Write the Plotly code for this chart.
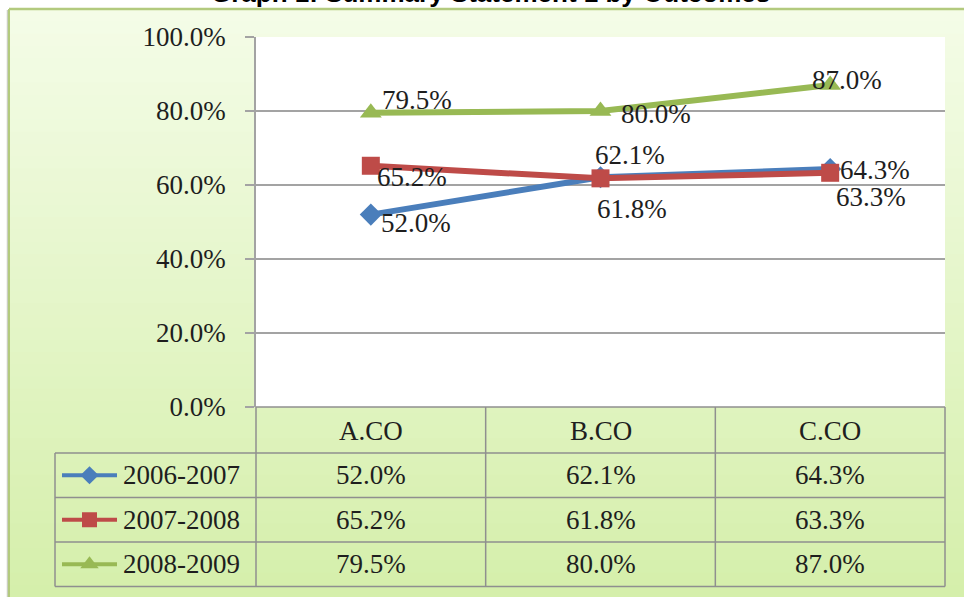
import plotly.graph_objects as go

# ---------------- data ----------------
categories = ["A.CO", "B.CO", "C.CO"]
series_names = ["2006-2007", "2007-2008", "2008-2009"]
values_2006_2007 = [0.520, 0.621, 0.643]
values_2007_2008 = [0.652, 0.618, 0.633]
values_2008_2009 = [0.795, 0.800, 0.870]
y_tick_values = [0.0, 0.2, 0.4, 0.6, 0.8, 1.0]
title_text = "Graph 1: Summary Statement 1 by Outcomes"

series_values = [values_2006_2007, values_2007_2008, values_2008_2009]

# ---------------- styling ----------------
W, H = 964, 597
PLOT_L, PLOT_R, PLOT_T, PLOT_B = 256, 945, 37, 407
TABLE_L = 55
HEADER_B = 453
ROW_H = 44.5

colors = ["#4a7ebb", "#be4b48", "#98b954"]
symbols = ["diamond", "square", "triangle-up"]
marker_sizes = [17, 18, 19]
# label offsets (px) relative to each point: (dx to left edge, dy up)
label_offsets = [
    [(8, -8), (-8, 22), (8, -1)],
    [(4, -11), (-6, -31), (4, -24)],
    [(9, 13), (18, -3), (-20, 5)],
]
SERIF = "Liberation Serif, Times New Roman, serif"
TXT = "#1e1e1e"
GRID = "#a3a3a3"
FS = 27


def fx(px):
    return px / W


def fy(py):
    return 1 - py / H


fig = go.Figure()

# main series
for name, vals, col, sym, ms in zip(series_names, series_values, colors, symbols, marker_sizes):
    fig.add_trace(go.Scatter(
        x=categories, y=vals, name=name, mode="lines+markers",
        line=dict(color=col, width=6),
        marker=dict(symbol=sym, size=ms, color=col),
        xaxis="x", yaxis="y", showlegend=False, hoverinfo="skip",
    ))

annotations = []
for vals, offs in zip(series_values, label_offsets):
    for cat, v, (dx, dy) in zip(categories, vals, offs):
        annotations.append(dict(
            x=cat, y=v, xref="x", yref="y", text=f"{v * 100:.1f}%",
            showarrow=False, xanchor="left", yanchor="middle",
            xshift=dx, yshift=dy, font=dict(family=SERIF, size=FS, color=TXT),
        ))

# ---------------- background gradient box ----------------
shapes = []
top_rgb = (0xf4, 0xfc, 0xe7)
bot_rgb = (0xd5, 0xef, 0xab)
box_top = 9
n_strips = 48
strip_h = (H - box_top) / n_strips
for i in range(n_strips):
    t = i / (n_strips - 1)
    c = tuple(round(a + (b - a) * t) for a, b in zip(top_rgb, bot_rgb))
    y0 = box_top + i * strip_h
    shapes.append(dict(
        type="rect", xref="paper", yref="paper", layer="below",
        x0=fx(9), x1=fx(W + 20), y0=fy(y0), y1=fy(min(H + 5, y0 + strip_h + 1)),
        fillcolor=f"rgb{c}", line=dict(width=0),
    ))
# shadow + border of box
shapes.append(dict(type="line", xref="paper", yref="paper", layer="below",
                   x0=fx(7.5), x1=fx(7.5), y0=fy(box_top + 1), y1=fy(H + 5),
                   line=dict(color="#c9cec0", width=1.5)))
shapes.append(dict(type="line", xref="paper", yref="paper", layer="below",
                   x0=fx(9), x1=fx(9), y0=fy(box_top), y1=fy(H + 5),
                   line=dict(color="#b3ca7e", width=2)))
shapes.append(dict(type="line", xref="paper", yref="paper", layer="below",
                   x0=fx(9), x1=fx(W + 5), y0=fy(box_top), y1=fy(box_top),
                   line=dict(color="#b3ca7e", width=2.5)))
# white plot area
shapes.append(dict(type="rect", xref="paper", yref="paper", layer="below",
                   x0=fx(PLOT_L), x1=fx(PLOT_R), y0=fy(PLOT_B), y1=fy(PLOT_T),
                   fillcolor="white", line=dict(width=0)))

# ---------------- data table ----------------
ncat = len(categories)
col_w = (PLOT_R - PLOT_L) / ncat
col_edges = [PLOT_L + i * col_w for i in range(ncat + 1)]
row_edges = [HEADER_B + i * ROW_H for i in range(len(series_names) + 1)]
line_style = dict(color="#8f8f8f", width=1.5)

# horizontal lines
shapes.append(dict(type="line", xref="paper", yref="paper",
                   x0=fx(PLOT_L), x1=fx(PLOT_R), y0=fy(PLOT_B), y1=fy(PLOT_B), line=line_style))
for ry in row_edges:
    shapes.append(dict(type="line", xref="paper", yref="paper",
                       x0=fx(TABLE_L), x1=fx(PLOT_R), y0=fy(ry), y1=fy(ry), line=line_style))
# vertical lines
shapes.append(dict(type="line", xref="paper", yref="paper",
                   x0=fx(TABLE_L), x1=fx(TABLE_L), y0=fy(row_edges[0]), y1=fy(row_edges[-1]),
                   line=line_style))
for cx in col_edges:
    shapes.append(dict(type="line", xref="paper", yref="paper",
                       x0=fx(cx), x1=fx(cx), y0=fy(PLOT_B), y1=fy(row_edges[-1]),
                       line=line_style))

# header text
for i, cat in enumerate(categories):
    annotations.append(dict(
        x=fx(col_edges[i] + col_w / 2), y=fy((PLOT_B + HEADER_B) / 2 + 1),
        xref="paper", yref="paper", text=cat, showarrow=False,
        xanchor="center", yanchor="middle", font=dict(family=SERIF, size=FS, color=TXT)))

# body text
icon_x0, icon_x1, text_x = 62, 117, 121
for r, (name, vals) in enumerate(zip(series_names, series_values)):
    yc = row_edges[r] + ROW_H / 2
    annotations.append(dict(
        x=fx(text_x), y=fy(yc), xref="paper", yref="paper", text=name,
        showarrow=False, xanchor="left", yanchor="middle",
        font=dict(family=SERIF, size=FS, color=TXT)))
    for i, v in enumerate(vals):
        annotations.append(dict(
            x=fx(col_edges[i] + col_w / 2), y=fy(yc), xref="paper", yref="paper",
            text=f"{v * 100:.1f}%", showarrow=False, xanchor="center", yanchor="middle",
            font=dict(family=SERIF, size=FS, color=TXT)))
    # legend key line + marker (on pixel-space overlay axes)
    fig.add_trace(go.Scatter(
        x=[icon_x0, (icon_x0 + icon_x1) / 2, icon_x1], y=[yc, yc, yc],
        mode="lines", line=dict(color=colors[r], width=4),
        xaxis="x2", yaxis="y2", showlegend=False, hoverinfo="skip"))
    fig.add_trace(go.Scatter(
        x=[(icon_x0 + icon_x1) / 2], y=[yc], mode="markers",
        marker=dict(symbol=symbols[r], size=marker_sizes[r] - 3, color=colors[r]),
        xaxis="x2", yaxis="y2", showlegend=False, hoverinfo="skip"))

# title (partly cut off at the top edge, as in the source)
annotations.append(dict(
    x=fx(491), y=fy(10), xref="paper", yref="paper", text=f"<b>{title_text}</b>",
    showarrow=False, xanchor="center", yanchor="bottom",
    font=dict(family="Liberation Sans, Arial, sans-serif", size=26, color="#000000")))

fig.update_layout(
    width=W, height=H,
    margin=dict(l=0, r=0, t=0, b=0, autoexpand=False),
    paper_bgcolor="white",
    plot_bgcolor="rgba(0,0,0,0)",
    showlegend=False,
    shapes=shapes,
    annotations=annotations,
    xaxis=dict(
        domain=[fx(PLOT_L), fx(PLOT_R)], range=[-0.5, ncat - 0.5],
        type="category", showticklabels=False, showgrid=False, zeroline=False,
        showline=False, ticks="", fixedrange=True, automargin=False,
    ),
    yaxis=dict(
        domain=[fy(PLOT_B), fy(PLOT_T)], range=[0, 1],
        tickvals=y_tick_values, tickformat=".1%",
        showgrid=True, gridcolor=GRID, gridwidth=1.5, zeroline=False,
        showline=True, linecolor=GRID, linewidth=1.5,
        ticks="outside", ticklen=9, tickcolor=GRID, tickwidth=1.5,
        ticklabelstandoff=14, automargin=False,
        tickfont=dict(family=SERIF, size=FS, color=TXT), fixedrange=True,
    ),
    xaxis2=dict(domain=[0, 1], range=[0, W], visible=False, fixedrange=True,
                automargin=False, anchor="y2"),
    yaxis2=dict(domain=[0, 1], range=[H, 0], visible=False, fixedrange=True,
                anchor="x2", automargin=False),
)

fig.write_html("out.html", config={"displayModeBar": False},
               post_script="document.body.style.margin='0px';")
